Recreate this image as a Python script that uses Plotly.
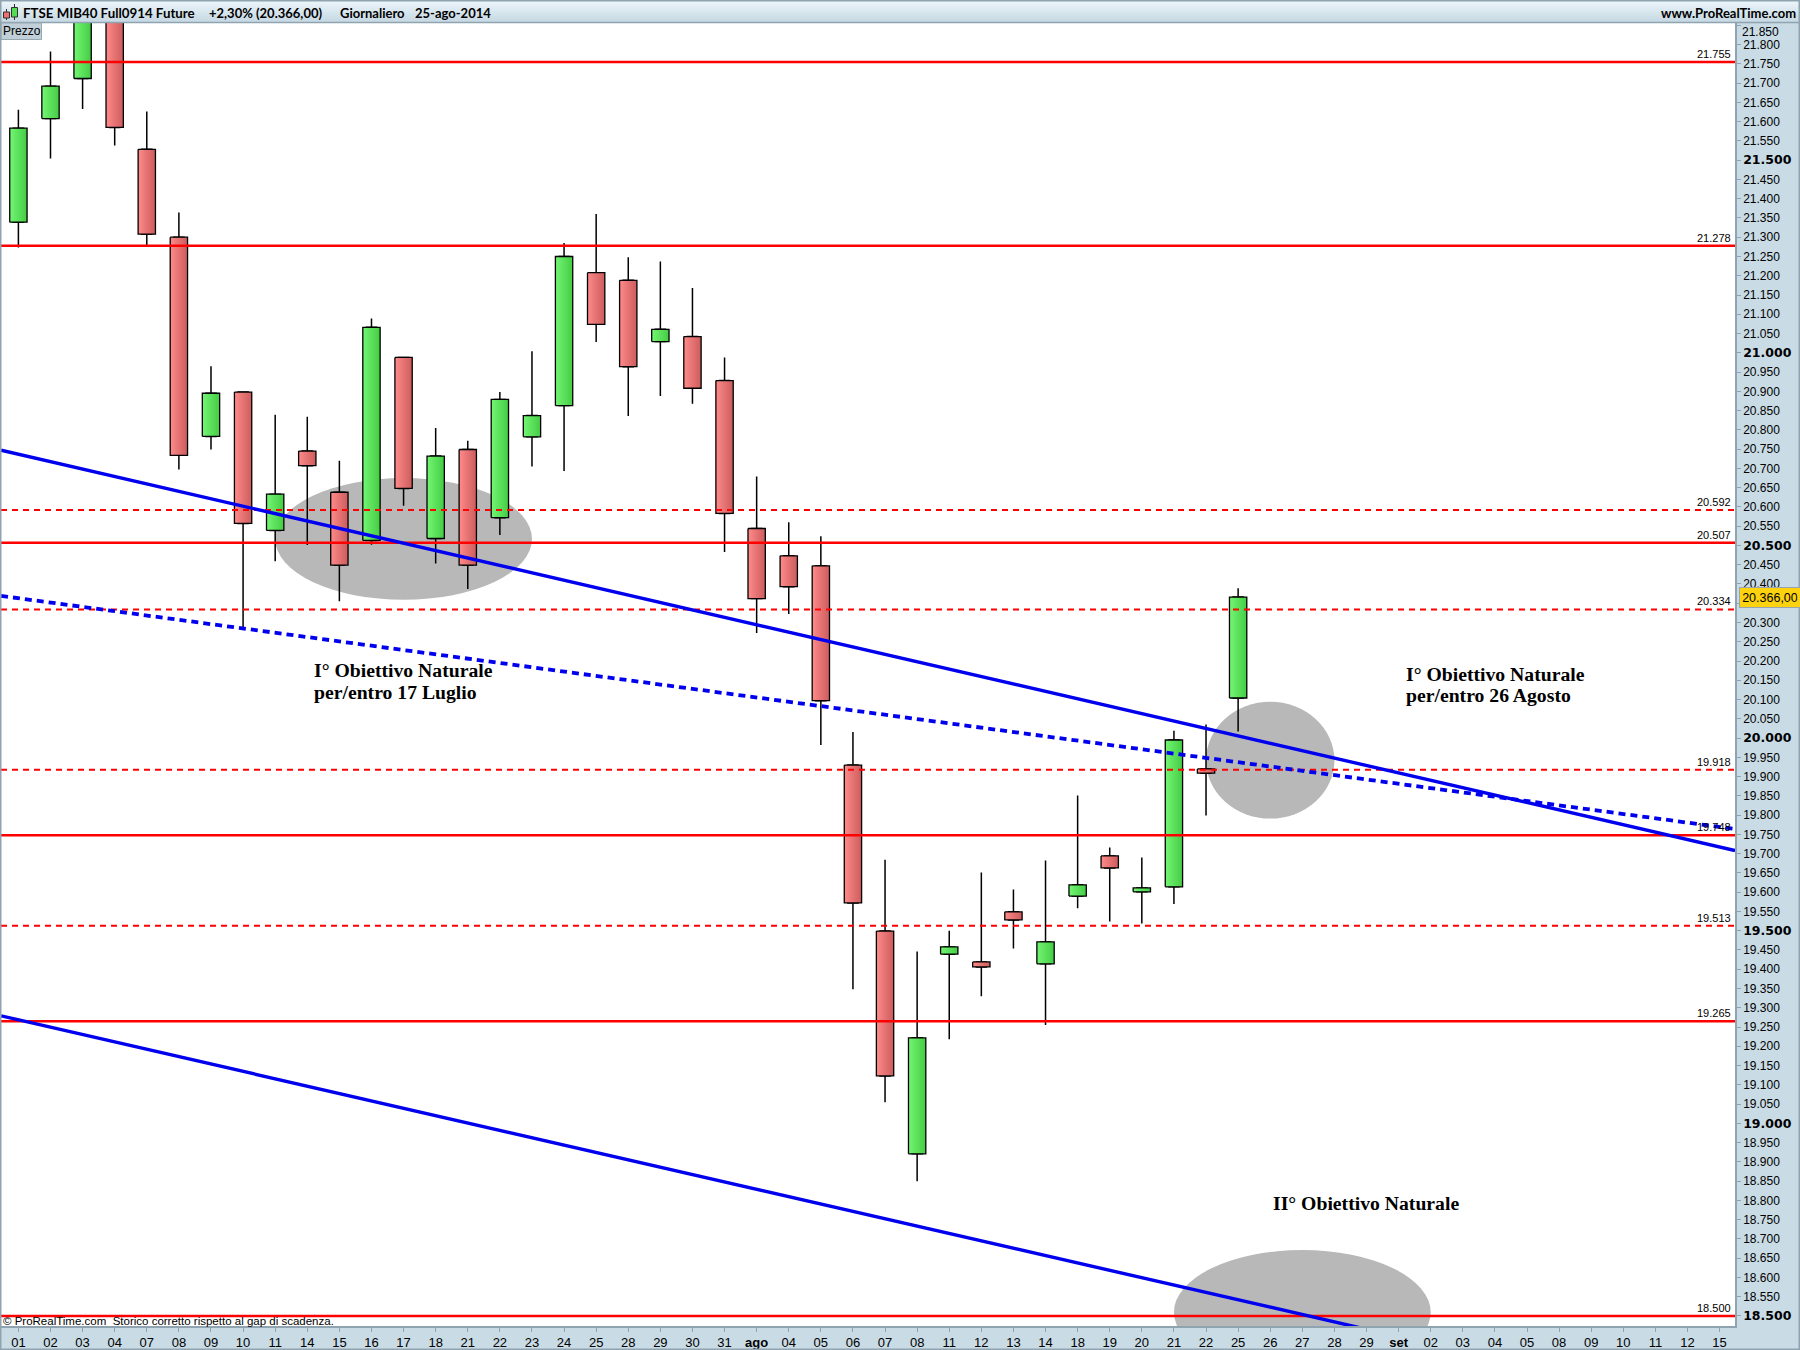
import plotly.graph_objects as go

# ---------- data ----------
tick_labels = ["01","02","03","04","07","08","09","10","11","14","15","16","17","18","21","22","23","24","25",
               "28","29","30","31","ago","04","05","06","07","08","11","12","13","14","18","19","20","21","22",
               "25","26","27","28","29","set","02","03","04","05","08","09","10","11","12","15"]
open_  = [21.339,21.608,21.712,21.920,21.528,21.300,20.783,20.898,20.539,20.745,20.638,20.513,20.988,20.518,
          20.749,20.572,20.782,20.863,21.208,21.188,21.029,21.042,20.928,20.544,20.473,20.447,19.930,19.499,
          18.921,19.439,19.419,19.549,19.414,19.590,19.694,19.601,19.614,19.920,20.104]
high   = [21.631,21.782,21.950,21.960,21.626,21.364,20.965,20.898,20.839,20.834,20.720,21.089,20.988,20.805,
          20.772,20.898,21.004,21.285,21.360,21.248,21.237,21.168,20.988,20.679,20.560,20.524,20.016,19.684,
          19.446,19.500,19.651,19.607,19.682,19.851,19.716,19.690,20.019,20.035,20.389]
low    = [21.273,21.504,21.633,21.538,21.278,20.697,20.749,20.283,20.459,20.501,20.355,20.502,20.603,20.453,
          20.387,20.527,20.705,20.693,21.028,20.836,20.888,20.868,20.483,20.273,20.322,19.982,19.348,19.055,
          18.850,19.218,19.330,19.454,19.255,19.558,19.524,19.519,19.569,19.799,20.017]
close  = [21.583,21.692,21.900,21.585,21.308,20.734,20.895,20.557,20.633,20.707,20.449,21.066,20.648,20.732,
          20.449,20.879,20.837,21.250,21.074,20.964,21.061,20.908,20.583,20.362,20.393,20.097,19.572,19.123,
          19.222,19.458,19.406,19.528,19.471,19.619,19.663,19.611,19.995,19.909,20.366]
solid_levels  = [21.755,21.278,20.507,19.748,19.265,18.500]
dashed_levels = [20.592,20.334,19.918,19.513]
level_names = {21.755:"21.755",21.278:"21.278",20.507:"20.507",19.748:"19.748",19.265:"19.265",18.500:"18.500",
               20.592:"20.592",20.334:"20.334",19.918:"19.918",19.513:"19.513"}
trend_upper = [(-0.54,20.747),(53.48,19.708)]
trend_lower = [(-0.54,19.279),(53.48,18.246)]
trend_dash  = [(-0.54,20.369),(53.48,19.764)]
zones = [(8,16,20.359,20.675),(37,41,19.791,20.094),(36,44,18.349,18.671)]
price_ticks = [round(18.5+0.05*i,3) for i in range(68)]
last_price = 20.366

W,H = 1800,1350
L,R,T,B = 1,1735,23,1326
BG = "#c9dbe5"; EDGE = "#8fa3b0"; RED = "#ff0000"; BLUE = "#0000ee"
NARROW = "Liberation Sans Narrow, Liberation Sans, sans-serif"
SANS = "Liberation Sans, sans-serif"
HEAD = "Lato, Open Sans, sans-serif"
SERIF = "Liberation Serif, serif"

def px(x): return x/W
def py(y): return 1-y/H

fig = go.Figure()
x_idx = list(range(len(open_)))

fig.add_trace(go.Candlestick(x=x_idx, open=open_, high=high, low=low, close=close,
    increasing=dict(line=dict(color="black",width=1.5),fillcolor="#55dc55"),
    decreasing=dict(line=dict(color="black",width=1.5),fillcolor="#e67070"),
    whiskerwidth=0, showlegend=False, hoverinfo="skip"))

half = 0.27
for i,(o,c) in enumerate(zip(open_,close)):
    up = c>=o
    scale = [[0,"#74f674"],[1,"#44cc44"]] if up else [[0,"#ff8a8a"],[1,"#cc5c5c"]]
    fig.add_trace(go.Scatter(x=[i-half,i+half,i+half,i-half,i-half], y=[o,o,c,c,o], mode="lines", fill="toself",
        fillgradient=dict(type="horizontal",colorscale=scale),
        line=dict(color="black",width=1.3), showlegend=False, hoverinfo="skip"))

shapes=[]
# page furniture
n=11
for k in range(n):
    t=k/(n-1)
    col="rgb(%d,%d,%d)"%(236-36*t,246-28*t,250-22*t)
    shapes.append(dict(type="rect",xref="paper",yref="paper",x0=0,x1=1,y0=py(k*2),y1=py((k+1)*2+0.5),
        fillcolor=col,line_width=0,layer="below"))
# gray zones
for x0,x1,y0,y1 in zones:
    shapes.append(dict(type="circle",xref="x",yref="y",x0=x0,x1=x1,y0=y0,y1=y1,fillcolor="#b8b8b8",line_width=0,layer="below"))
# levels
for v in solid_levels:
    shapes.append(dict(type="line",xref="paper",yref="y",x0=px(L),x1=px(R),y0=v,y1=v,line=dict(color=RED,width=2.5),layer="above"))
for v in dashed_levels:
    shapes.append(dict(type="line",xref="paper",yref="y",x0=px(L),x1=px(R),y0=v,y1=v,line=dict(color=RED,width=2,dash="6px,5px"),layer="above"))
# trends
for tr,dash in ((trend_upper,None),(trend_lower,None),(trend_dash,"7px,5px")):
    ln=dict(color=BLUE,width=3.4)
    if dash: ln["dash"]=dash; ln["width"]=3.8
    shapes.append(dict(type="line",xref="x",yref="y",x0=tr[0][0],y0=tr[0][1],x1=tr[1][0],y1=tr[1][1],line=ln,layer="above"))
# header separator, icon, Prezzo box, frame
shapes+= [
 dict(type="line",xref="paper",yref="paper",x0=0,x1=1,y0=py(22.5),y1=py(22.5),line=dict(color=EDGE,width=1.5)),
 dict(type="line",xref="paper",yref="paper",x0=px(6.5),x1=px(6.5),y0=py(9),y1=py(20),line=dict(color="#303030",width=1)),
 dict(type="rect",xref="paper",yref="paper",x0=px(3.5),x1=px(9.5),y0=py(12),y1=py(18),fillcolor="#f07070",line=dict(color="#303030",width=1)),
 dict(type="line",xref="paper",yref="paper",x0=px(14.5),x1=px(14.5),y0=py(4),y1=py(20),line=dict(color="#303030",width=1)),
 dict(type="rect",xref="paper",yref="paper",x0=px(11.5),x1=px(17.5),y0=py(7.5),y1=py(17),fillcolor="#55dc55",line=dict(color="#303030",width=1)),
 dict(type="rect",xref="paper",yref="paper",x0=px(1),x1=px(41.5),y0=py(23),y1=py(39.5),fillcolor="#c0cfd8",line=dict(color="#98a8b2",width=1)),
 dict(type="rect",xref="paper",yref="paper",x0=0,x1=1,y0=0,y1=1,line=dict(color=EDGE,width=3)),
]

ann=[]
def text(x,y,s,size,family,anchor="left",color="black"):
    ann.append(dict(xref="paper",yref="paper",x=px(x),y=py(y),text=s,showarrow=False,xanchor=anchor,yanchor="middle",
                    font=dict(size=size,family=family,color=color),borderpad=0,borderwidth=0))
text(23,13,"<b>FTSE MIB40 Full0914 Future</b>",13.3,HEAD)
text(209,13,"<b>+2,30% (20.366,00)</b>",13,HEAD)
text(339.5,13,"<b>Giornaliero</b>",13,HEAD)
text(415,13,"<b>25-ago-2014</b>",13,HEAD)
text(1796,13,"<b>www.ProRealTime.com</b>",13,HEAD,"right")
text(3,31.5,"Prezzo",12,NARROW)
text(3,1320.5,"© ProRealTime.com  Storico corretto rispetto al gap di scadenza.",11.5,SANS)
text(314,670.5,"<b>I° Obiettivo Naturale</b>",19.7,SERIF)
text(314,692,"<b>per/entro 17 Luglio</b>",19.7,SERIF)
text(1406,674,"<b>I° Obiettivo Naturale</b>",19.7,SERIF)
text(1406,695,"<b>per/entro 26 Agosto</b>",19.7,SERIF)
text(1273,1202.5,"<b>II° Obiettivo Naturale</b>",19.7,SERIF)
text(1742,32,"21.850",12,SANS)
for v,s in level_names.items():
    ann.append(dict(xref="paper",yref="y",x=px(1732.5),y=v,yshift=8,text=s,showarrow=False,xanchor="right",yanchor="middle",
                    font=dict(size=11,family=SANS,color="black")))
ann.append(dict(xref="paper",yref="y",x=px(1769.5),y=last_price,text="20.366,00",showarrow=False,xanchor="center",yanchor="middle",
                font=dict(size=12.5,family=SANS,color="black"),bgcolor="#fdd20e",bordercolor="#9aa5ad",borderwidth=1,borderpad=2.5,width=55))

def ylab(v):
    s="%.3f"%v
    if abs(v*2-round(v*2))<1e-6:
        return '<span style="font-family:DejaVu Sans;font-size:12.5px"><b>%s</b></span>'%s
    return "" if v in (21.85,20.35) else s

fig.update_layout(width=W,height=H,margin=dict(l=0,r=0,t=0,b=0,autoexpand=False),
    paper_bgcolor=BG,plot_bgcolor="white",showlegend=False,boxgap=0.55,hovermode=False,
    shapes=shapes,annotations=ann,
    xaxis=dict(domain=[px(L),px(R)],range=[-0.542,53.48],rangeslider=dict(visible=False),showgrid=False,zeroline=False,
        tickmode="array",tickvals=list(range(len(tick_labels))),
        ticktext=["<b>%s</b>"%t if t in("ago","set") else t for t in tick_labels],
        ticks="outside",ticklen=4,tickcolor=EDGE,tickwidth=1,tickangle=0,
        tickfont=dict(size=13,family=NARROW,color="black"),showline=True,linecolor=EDGE,linewidth=1.5,anchor="y"),
    yaxis=dict(domain=[py(B),py(T)],range=[18.474,21.856],side="right",showgrid=False,zeroline=False,
        tickmode="array",tickvals=price_ticks,ticktext=[ylab(v) for v in price_ticks],
        ticks="outside",ticklen=4,tickcolor=EDGE,tickwidth=1,
        tickfont=dict(size=12,family=SANS,color="black"),showline=True,linecolor=EDGE,linewidth=1.5,anchor="x"))

fig.write_html("out.html",config=dict(displayModeBar=False),
               post_script="document.body.style.margin='0';document.body.style.overflow='hidden';")
